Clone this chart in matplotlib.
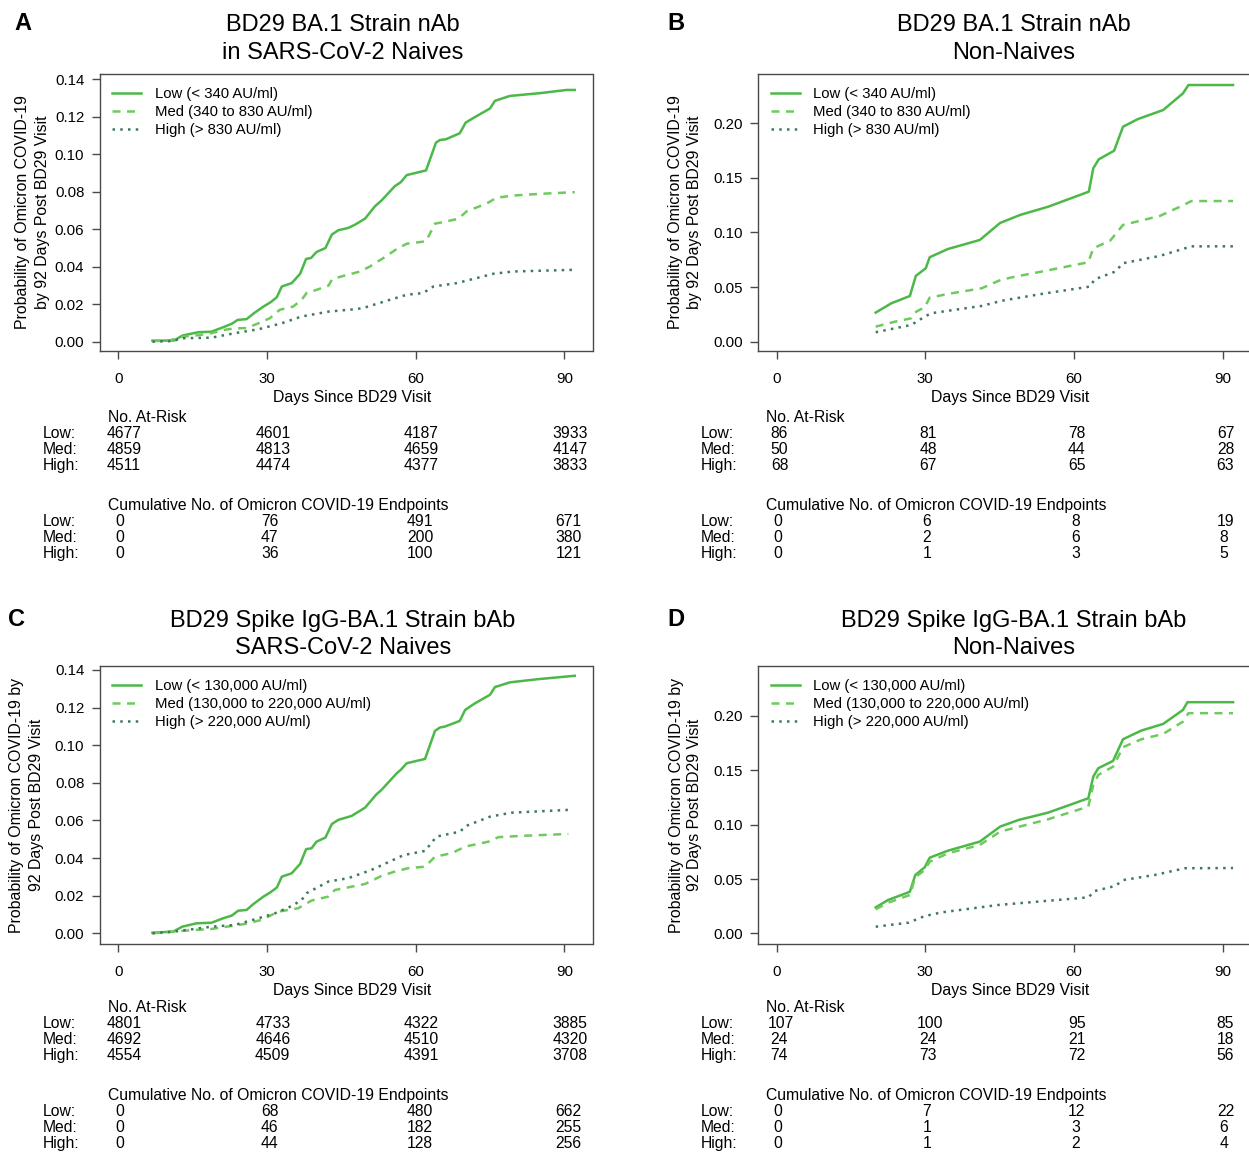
import matplotlib
matplotlib.use("Agg")
import matplotlib.pyplot as plt
from matplotlib.transforms import blended_transform_factory

plt.rcParams['font.family'] = ['Liberation Sans', 'DejaVu Sans']

W, H = 1249, 1152

# time points used for the x axis and for the risk tables
tab_days = [0, 30, 60, 90]
row_names = ["Low:", "Med:", "High:"]

# ---------------- A: BA.1 nAb, naives ----------------
a_low_t = [6.9, 11.3, 12.9, 16.1, 18.8, 21.2, 22.9, 24.1, 25.9, 27.4, 29.3, 30.8, 32.0, 33.0, 35.0,
           36.7, 37.9, 38.9, 40.0, 41.8, 43.1, 44.4, 46.4, 47.8, 49.8, 51.8, 53.1, 55.8, 57.0, 58.2,
           62.1, 64.1, 64.9, 66.1, 68.9, 70.1, 72.0, 75.0, 76.0, 77.4, 79.0, 85.1, 90.5, 92.1]
a_low_p = [0.0005, 0.0006, 0.0032, 0.0050, 0.0053, 0.0077, 0.0095, 0.0116, 0.0120, 0.0152, 0.0187,
           0.0211, 0.0237, 0.0294, 0.0312, 0.0362, 0.0441, 0.0446, 0.0478, 0.0499, 0.0571, 0.0594,
           0.0606, 0.0624, 0.0656, 0.0722, 0.0752, 0.0829, 0.0850, 0.0888, 0.0913, 0.1061, 0.1075,
           0.1079, 0.1111, 0.1168, 0.1198, 0.1243, 0.1284, 0.1296, 0.1310, 0.1325, 0.1342, 0.1342]
a_med_t = [6.9, 10.1, 13.1, 15.5, 18.8, 21.5, 23.5, 25.9, 28.3, 30.6, 32.6, 35.3, 37.0, 38.0, 40.0,
           42.4, 43.2, 45.1, 48.8, 50.8, 53.5, 56.2, 58.2, 62.1, 63.9, 65.3, 68.6, 70.3, 74.3, 76.3,
           79.7, 85.1, 92.1]
a_med_p = [0.0003, 0.0005, 0.0027, 0.0032, 0.0045, 0.0063, 0.0071, 0.0072, 0.0098, 0.0125, 0.0170,
           0.0187, 0.0223, 0.0259, 0.0276, 0.0298, 0.0334, 0.0348, 0.0374, 0.0401, 0.0446, 0.0494,
           0.0522, 0.0535, 0.0629, 0.0636, 0.0655, 0.0695, 0.0736, 0.0767, 0.0779, 0.0788, 0.0797]
a_high_t = [6.9, 11.0, 12.8, 18.8, 23.5, 28.3, 33.0, 37.0, 42.4, 47.8, 49.4, 54.8, 58.2, 61.5, 63.6,
            68.3, 71.6, 75.7, 79.7, 92.1]
a_high_p = [0.0, 0.0003, 0.0018, 0.0021, 0.0045, 0.0066, 0.0098, 0.0134, 0.0160, 0.0173, 0.0179,
            0.0223, 0.0250, 0.0259, 0.0294, 0.0312, 0.0334, 0.0362, 0.0374, 0.0383]
a_at_risk = [[4677, 4601, 4187, 3933], [4859, 4813, 4659, 4147], [4511, 4474, 4377, 3833]]
a_events = [[0, 76, 491, 671], [0, 47, 200, 380], [0, 36, 100, 121]]

# ---------------- B: BA.1 nAb, non-naives ----------------
b_low_t = [20.0, 23.2, 26.9, 28.1, 30.1, 30.9, 34.6, 41.0, 45.1, 49.1, 54.8, 63.0, 63.9, 65.0, 68.1,
           69.9, 72.9, 78.0, 82.0, 83.1, 92.1]
b_low_p = [0.0266, 0.0352, 0.0418, 0.0602, 0.0672, 0.0773, 0.0849, 0.0931, 0.1087, 0.1160, 0.1236,
           0.1374, 0.1588, 0.1670, 0.1749, 0.1969, 0.2039, 0.2122, 0.2275, 0.2351, 0.2351]
b_med_t = [20.0, 23.9, 27.2, 28.2, 29.9, 30.9, 34.6, 41.4, 45.2, 48.1, 54.1, 62.9, 63.9, 67.3, 69.9,
           77.3, 81.4, 83.7, 92.1]
b_med_p = [0.0137, 0.0183, 0.0214, 0.0275, 0.0315, 0.0403, 0.0437, 0.0489, 0.0565, 0.0595, 0.0647,
           0.0727, 0.0855, 0.0925, 0.1069, 0.1151, 0.1236, 0.1288, 0.1288]
b_high_t = [20.0, 27.2, 29.9, 31.2, 41.4, 45.5, 53.5, 63.2, 64.2, 68.3, 69.9, 77.3, 82.4, 83.7, 92.1]
b_high_p = [0.0086, 0.0153, 0.0229, 0.0260, 0.0327, 0.0375, 0.0437, 0.0504, 0.0571, 0.0641, 0.0718,
            0.0785, 0.0855, 0.0873, 0.0873]
b_at_risk = [[86, 81, 78, 67], [50, 48, 44, 28], [68, 67, 65, 63]]
b_events = [[0, 6, 8, 19], [0, 2, 6, 8], [0, 1, 3, 5]]

# ---------------- C: Spike IgG-BA.1 bAb, naives ----------------
c_low_t = [6.9, 11.1, 12.9, 15.8, 18.8, 21.2, 22.9, 24.2, 25.9, 27.2, 29.3, 30.6, 32.0, 33.0, 35.0,
           36.7, 37.9, 39.0, 40.0, 41.8, 43.1, 44.4, 47.1, 49.8, 52.1, 53.1, 56.2, 57.0, 58.2, 61.9,
           63.9, 64.9, 65.9, 68.9, 70.0, 72.0, 75.0, 76.0, 79.0, 84.7, 92.1]
c_low_p = [0.0003, 0.0009, 0.0035, 0.0053, 0.0056, 0.0080, 0.0094, 0.0120, 0.0124, 0.0154, 0.0195,
           0.0216, 0.0243, 0.0301, 0.0319, 0.0369, 0.0447, 0.0452, 0.0487, 0.0509, 0.0581, 0.0603,
           0.0624, 0.0668, 0.0739, 0.0762, 0.0851, 0.0869, 0.0904, 0.0927, 0.1076, 0.1094, 0.1099,
           0.1129, 0.1188, 0.1223, 0.1268, 0.1309, 0.1334, 0.1351, 0.1369]
c_med_t = [6.9, 11.3, 13.5, 18.8, 22.9, 25.6, 28.9, 32.3, 36.3, 39.0, 42.4, 43.7, 49.8, 53.1, 55.8,
           58.5, 61.9, 63.9, 67.3, 70.0, 74.7, 76.7, 81.4, 90.8]
c_med_p = [0.0, 0.0009, 0.0014, 0.0023, 0.0039, 0.0050, 0.0071, 0.0115, 0.0133, 0.0174, 0.0195,
           0.0230, 0.0262, 0.0305, 0.0328, 0.0346, 0.0354, 0.0407, 0.0426, 0.0461, 0.0487, 0.0511,
           0.0518, 0.0528]
c_high_t = [6.9, 11.3, 18.8, 23.5, 28.3, 31.6, 35.0, 37.0, 38.0, 42.4, 46.4, 51.1, 55.8, 57.6, 61.9,
            64.2, 68.9, 70.3, 75.0, 79.3, 90.8]
c_high_p = [0.0, 0.0009, 0.0035, 0.0044, 0.0080, 0.0106, 0.0145, 0.0177, 0.0213, 0.0275, 0.0293,
            0.0337, 0.0394, 0.0416, 0.0438, 0.0514, 0.0540, 0.0572, 0.0620, 0.0641, 0.0656]
c_at_risk = [[4801, 4733, 4322, 3885], [4692, 4646, 4510, 4320], [4554, 4509, 4391, 3708]]
c_events = [[0, 68, 480, 662], [0, 46, 182, 255], [0, 44, 128, 256]]

# ---------------- D: Spike IgG-BA.1 bAb, non-naives ----------------
d_low_t = [20.0, 22.5, 25.2, 26.9, 28.0, 29.9, 30.9, 34.6, 41.0, 45.1, 48.8, 54.8, 62.9, 63.9, 64.9,
           67.9, 69.9, 73.6, 78.0, 82.0, 82.9, 92.1]
d_low_p = [0.0239, 0.0307, 0.0353, 0.0383, 0.0537, 0.0608, 0.0696, 0.0761, 0.0844, 0.0982, 0.1043,
           0.1111, 0.1243, 0.1442, 0.1519, 0.1587, 0.1786, 0.1866, 0.1927, 0.2056, 0.2127, 0.2127]
d_med_t = [20.0, 22.5, 26.9, 28.0, 29.9, 30.9, 34.6, 41.0, 45.1, 54.8, 62.9, 63.9, 64.9, 67.9, 69.9,
           73.6, 78.0, 82.0, 83.1, 92.1]
d_med_p = [0.0221, 0.0282, 0.0353, 0.0516, 0.0583, 0.0660, 0.0737, 0.0813, 0.0936, 0.1050, 0.1166,
           0.1366, 0.1458, 0.1534, 0.1713, 0.1786, 0.1835, 0.1948, 0.2026, 0.2026]
d_high_t = [20.0, 26.6, 29.9, 33.3, 44.7, 62.9, 64.2, 68.3, 70.0, 76.3, 82.4, 92.1]
d_high_p = [0.0061, 0.0098, 0.0159, 0.0193, 0.0261, 0.0331, 0.0390, 0.0436, 0.0491, 0.0537, 0.0599,
            0.0601]
d_at_risk = [[107, 100, 95, 85], [24, 24, 21, 18], [74, 73, 72, 56]]
d_events = [[0, 7, 12, 22], [0, 1, 3, 6], [0, 1, 2, 4]]

nab_labels = ["Low (< 340 AU/ml)", "Med (340 to 830 AU/ml)", "High (> 830 AU/ml)"]
bab_labels = ["Low (< 130,000 AU/ml)", "Med (130,000 to 220,000 AU/ml)", "High (> 220,000 AU/ml)"]

# line styles for Low / Med / High
colors = ["#4cb848", "#6fca5e", "#3d7a5a"]
styles = ["-", (0, (3.2, 2.6)), (0, (1, 2.1))]
LW = 1.8

AXC = "#4a4a4a"
FS_TITLE, FS_TICK, FS_LAB, FS_TAB, FS_LEG = 17, 10.8, 11.4, 11.3, 10.7

fig = plt.figure(figsize=(W / 100, H / 100), dpi=100)


def fx(x):
    return x / W


def fy(y):
    return 1 - y / H


def panel(letter, letter_xy, box, title, title_xy, ylab, ylab_x, curves, labels,
          yticks, ylim, at_risk, events, xlab_x, tab_shift=0.0):
    left, top, bottom = box
    ax = fig.add_axes([fx(left), fy(bottom), 492.5 / W, (bottom - top) / H])
    for (t, p), c, ls, lab in zip(curves, colors, styles, labels):
        ax.plot(t, p, color=c, lw=LW, ls=ls, label=lab)
    ax.set_xlim(-3.68, 95.68)
    ax.set_ylim(*ylim)
    ax.set_xticks(tab_days)
    ax.set_yticks(yticks)
    ax.set_yticklabels(["%.2f" % v for v in yticks])
    for s in ax.spines.values():
        s.set_color(AXC)
        s.set_linewidth(1.0)
    ax.tick_params(axis="both", direction="out", length=5.8, width=1.0, color=AXC,
                   labelsize=FS_TICK)
    ax.tick_params(axis="y", pad=5.5)
    ax.tick_params(axis="x", pad=9.2)

    ax.legend(loc="upper left", bbox_to_anchor=(0.025, 0.953), frameon=False,
              borderpad=0, borderaxespad=0, handlelength=1.95, handletextpad=0.9,
              labelspacing=0.26, fontsize=FS_LEG)

    # panel letter and two-line title
    fig.text(fx(letter_xy[0]), fy(letter_xy[1]), letter, fontsize=17, fontweight="bold",
             ha="left", va="baseline")
    for line, yb in zip(title, title_xy[1]):
        fig.text(fx(title_xy[0]), fy(yb), line, fontsize=FS_TITLE, ha="center", va="baseline")

    ymid = (top + bottom) / 2
    for line, xc in zip(ylab, ylab_x):
        fig.text(fx(xc), fy(ymid), line, fontsize=FS_LAB, rotation=90, ha="center", va="center")

    fig.text(fx(xlab_x), fy(bottom + 50.6), "Days Since BD29 Visit", fontsize=FS_LAB,
             ha="center", va="baseline")

    # number at risk and cumulative endpoints underneath
    tr = blended_transform_factory(ax.transData, fig.transFigure)
    digit_w = 0.556 * FS_TAB
    blocks = [("No. At-Risk", at_risk, bottom + 70.6 + tab_shift),
              ("Cumulative No. of Omicron COVID-19 Endpoints", events, bottom + 158.6 + tab_shift)]
    for head, rows, y0 in blocks:
        fig.text(fx(left + 8), fy(y0), head, fontsize=FS_TAB, ha="left", va="baseline")
        for i, (name, vals) in enumerate(zip(row_names, rows)):
            yb = y0 + 16 * (i + 1)
            fig.text(fx(left - 57.3), fy(yb), name, fontsize=FS_TAB, ha="left", va="baseline")
            for d, v in zip(tab_days, vals):
                s = str(v)
                ax.annotate(s, xy=(d, fy(yb)), xycoords=tr,
                            xytext=(len(s) * digit_w / 6, 0), textcoords="offset points",
                            fontsize=FS_TAB, ha="center", va="baseline", annotation_clip=False)
    return ax


panel("A", (14, 30.5), (100, 74, 351),
      ["BD29 BA.1 Strain nAb", "in SARS-CoV-2 Naives"], (342.5, [31.3, 59.0]),
      ["Probability of Omicron COVID-19", "by 92 Days Post BD29 Visit"], (22.5, 42.5),
      [(a_low_t, a_low_p), (a_med_t, a_med_p), (a_high_t, a_high_p)], nab_labels,
      [0.0, 0.02, 0.04, 0.06, 0.08, 0.10, 0.12, 0.14], (-0.005, 0.1427),
      a_at_risk, a_events, 352)

panel("B", (667.3, 30.5), (758.3, 74, 351),
      ["BD29 BA.1 Strain nAb", "Non-Naives"], (1013.5, [31.3, 59.0]),
      ["Probability of Omicron COVID-19", "by 92 Days Post BD29 Visit"], (675, 695),
      [(b_low_t, b_low_p), (b_med_t, b_med_p), (b_high_t, b_high_p)], nab_labels,
      [0.0, 0.05, 0.10, 0.15, 0.20], (-0.0086, 0.2452),
      b_at_risk, b_events, 1010.5)

panel("C", (8, 626), (100, 666, 944),
      ["BD29 Spike IgG-BA.1 Strain bAb", "SARS-CoV-2 Naives"], (343, [626.5, 654.5]),
      ["Probability of Omicron COVID-19 by", "92 Days Post BD29 Visit"], (17, 36.5),
      [(c_low_t, c_low_p), (c_med_t, c_med_p), (c_high_t, c_high_p)], bab_labels,
      [0.0, 0.02, 0.04, 0.06, 0.08, 0.10, 0.12, 0.14], (-0.0057, 0.1421),
      c_at_risk, c_events, 352, tab_shift=-2.5)

panel("D", (667.3, 626), (758.3, 666, 944),
      ["BD29 Spike IgG-BA.1 Strain bAb", "Non-Naives"], (1013.7, [626.5, 654.5]),
      ["Probability of Omicron COVID-19 by", "92 Days Post BD29 Visit"], (676, 695),
      [(d_low_t, d_low_p), (d_med_t, d_med_p), (d_high_t, d_high_p)], bab_labels,
      [0.0, 0.05, 0.10, 0.15, 0.20], (-0.0098, 0.2460),
      d_at_risk, d_events, 1010.5, tab_shift=-2.5)

fig.savefig("out.png", dpi=100)
